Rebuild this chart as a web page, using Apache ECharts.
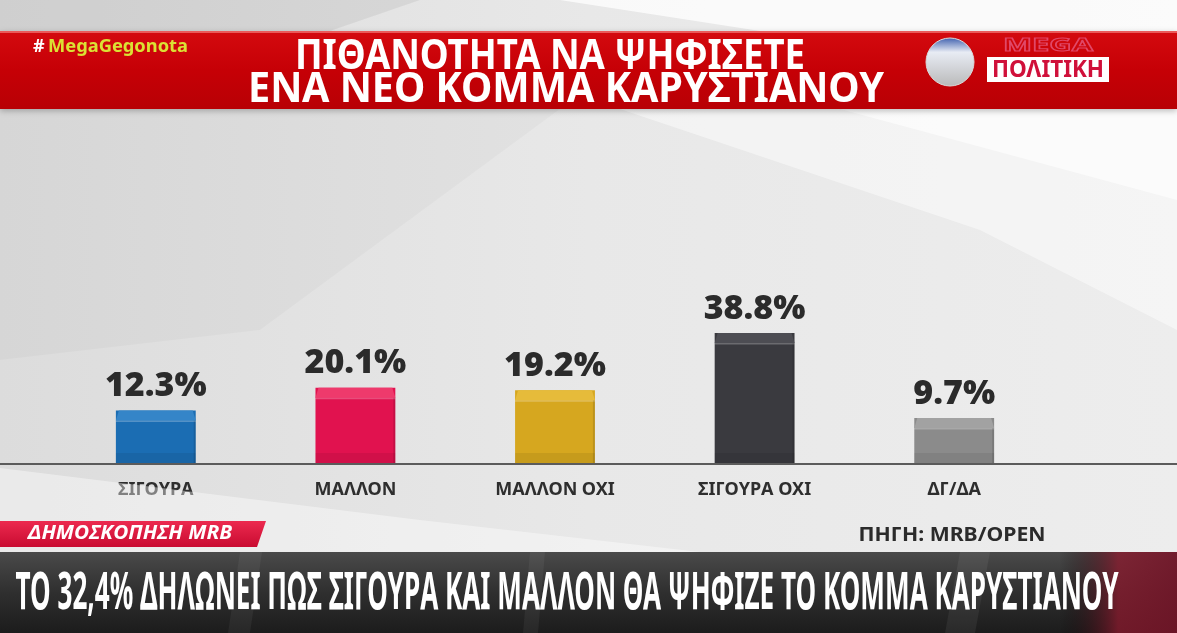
<!DOCTYPE html>
<html>
<head>
<meta charset="utf-8">
<script src="https://cdn.jsdelivr.net/npm/echarts@6/dist/echarts.min.js"></script>
<style>
  html, body { margin: 0; padding: 0; background: #e4e4e4; }
  #chart { width: 1177px; height: 633px; }
</style>
</head>
<body>
<div id="chart"></div>
<script>
// data
const categories = ['ΣΙΓΟΥΡΑ', 'ΜΑΛΛΟΝ', 'ΜΑΛΛΟΝ ΟΧΙ', 'ΣΙΓΟΥΡΑ ΟΧΙ', 'ΔΓ/ΔΑ'];
const values = [12.3, 20.1, 19.2, 38.8, 9.7];

const titleLines = ['ΠΙΘΑΝΟΤΗΤΑ ΝΑ ΨΗΦΙΣΕΤΕ', 'ΕΝΑ ΝΕΟ ΚΟΜΜΑ ΚΑΡΥΣΤΙΑΝΟΥ'];
const tickerText = 'ΤΟ 32,4% ΔΗΛΩΝΕΙ ΠΩΣ ΣΙΓΟΥΡΑ ΚΑΙ ΜΑΛΛΟΝ ΘΑ ΨΗΦΙΖΕ ΤΟ ΚΟΜΜΑ ΚΑΡΥΣΤΙΑΝΟΥ';

// bar colours
const palette = ['#1b6db3', '#e1124f', '#d6a71f', '#3a3a3f', '#8b8b8b'];
const bevel = ['#3585c8', '#ee3a6c', '#e6bb3a', '#4d4d53', '#a2a2a2'];

// the bars in the graphic don't start at zero, they sit on a raised floor
const axisMin = -6;

// squeeze a text to a wanted width (condensed broadcast font)
const measureCtx = document.createElement('canvas').getContext('2d');
function fitScale(text, font, width) {
  measureCtx.font = font;
  return width / measureCtx.measureText(text).width;
}

function txt(text, cx, cy, font, fill, width, extra) {
  const sx = width ? fitScale(text, font, width) : 1;
  return Object.assign({
    type: 'text', x: cx, y: cy, scaleX: sx, z: 20,
    style: {
      text: text, font: font, fill: fill,
      align: 'center', verticalAlign: 'middle',
      textAlign: 'center', textVerticalAlign: 'middle'
    }
  }, extra || {});
}

function renderBar(params, api) {
  const i = api.value(0);
  const v = api.value(1);
  const top = api.coord([i, v]);
  const base = api.coord([i, axisMin]);
  const w = api.size([1, 0])[0] * 0.4;
  const x0 = top[0] - w / 2, x1 = top[0] + w / 2;
  const h = base[1] - top[1];
  const c = palette[params.dataIndex], b = bevel[params.dataIndex];
  return {
    type: 'group',
    children: [
      { type: 'rect', shape: { x: x0, y: top[1], width: w, height: h }, style: { fill: c } },
      { type: 'polygon', shape: { points: [[x0, top[1] + 10], [x0 + 3, top[1]], [x1 - 3, top[1]], [x1, top[1] + 10]] },
        style: { fill: b } },
      { type: 'rect', shape: { x: x0, y: top[1] + 10, width: w, height: 1.5 }, style: { fill: 'rgba(255,255,255,0.25)' } },
      { type: 'rect', shape: { x: x0, y: base[1] - 11, width: w, height: 11 }, style: { fill: 'rgba(0,0,0,0.07)' } },
      { type: 'rect', shape: { x: x1 - 2, y: top[1] + 10, width: 2, height: h - 10 }, style: { fill: 'rgba(0,0,0,0.12)' } },
      {
        type: 'text', x: top[0], y: top[1] - 7,
        style: {
          text: v.toFixed(1) + '%', fill: '#2b2b2b',
          font: '900 34px "Noto Sans", sans-serif',
          align: 'center', verticalAlign: 'bottom',
          textAlign: 'center', textVerticalAlign: 'bottom'
        }
      }
    ]
  };
}

const titleFont = 'bold 42px "Noto Sans", sans-serif';
const tickerFont = 'bold 52px "Noto Sans", sans-serif';

const background = [
  { type: 'rect', z: 0, shape: { x: 0, y: 0, width: 1177, height: 633 },
    style: { fill: new echarts.graphic.LinearGradient(0, 0, 1, 0, [
      { offset: 0, color: '#dcdcdc' }, { offset: 0.5, color: '#e8e8e8' }, { offset: 1, color: '#ededed' }]) } },
  // soft sweeps
  { type: 'polygon', z: 1, shape: { points: [[560, 0], [1177, 0], [1177, 31], [760, 31]] },
    style: { fill: 'rgba(255,255,255,0.75)' } },
  { type: 'polygon', z: 1, shape: { points: [[0, 0], [420, 0], [330, 31], [0, 31]] },
    style: { fill: 'rgba(0,0,0,0.06)' } },
  { type: 'polygon', z: 1, shape: { points: [[620, 109], [1177, 109], [1177, 330], [980, 230]] },
    style: { fill: 'rgba(255,255,255,0.45)' } },
  { type: 'polygon', z: 1, shape: { points: [[840, 109], [1177, 109], [1177, 200]] },
    style: { fill: 'rgba(255,255,255,0.6)' } },
  { type: 'polygon', z: 1, shape: { points: [[0, 109], [560, 109], [260, 330], [0, 360]] },
    style: { fill: 'rgba(0,0,0,0.025)' } },
  { type: 'polygon', z: 1, shape: { points: [[0, 468], [420, 520], [700, 552], [0, 552]] },
    style: { fill: 'rgba(255,255,255,0.4)' } },
  // baseline across the whole frame
  { type: 'rect', z: 12, shape: { x: 0, y: 463, width: 1177, height: 2 }, style: { fill: '#5b5b5b' } },
  // red title band
  { type: 'rect', z: 10, shape: { x: 0, y: 31, width: 1177, height: 78 },
    style: { fill: new echarts.graphic.LinearGradient(0, 0, 0, 1, [
      { offset: 0, color: '#d40a0f' }, { offset: 0.5, color: '#c60006' }, { offset: 1, color: '#b80005' }]),
      shadowBlur: 6, shadowColor: 'rgba(0,0,0,0.25)', shadowOffsetY: 2 } },
  { type: 'rect', z: 11, shape: { x: 0, y: 31, width: 1177, height: 2 }, style: { fill: '#ea5a5a' } },
  // logo
  { type: 'circle', z: 15, shape: { cx: 950, cy: 62, r: 24 },
    style: { fill: new echarts.graphic.LinearGradient(0, 0, 0, 1, [
      { offset: 0, color: '#3d5fae' }, { offset: 0.3, color: '#e8ecf4' }, { offset: 1, color: '#b9b9b9' }]),
      stroke: '#d9d9d9', lineWidth: 1 } },
  { type: 'rect', z: 15, shape: { x: 987, y: 57, width: 122, height: 25 }, style: { fill: '#ffffff' } },
  txt('ΠΟΛΙΤΙΚΗ', 1048, 70, 'bold 23px "Noto Sans", sans-serif', '#d0103a', 112),
  txt('MEGA', 1048, 46, 'bold 17px "Noto Sans", sans-serif', 'rgba(0,0,0,0)', 90,
    { style: { text: 'MEGA', font: 'bold 17px "Noto Sans", sans-serif', fill: 'rgba(0,0,0,0)', stroke: '#e04868', lineWidth: 1,
      align: 'center', verticalAlign: 'middle', textAlign: 'center', textVerticalAlign: 'middle' } }),
  // hashtag
  { type: 'text', x: 33, y: 47, z: 20,
    style: { text: '#', font: 'bold 18px "Noto Sans", sans-serif', fill: '#ffffff', align: 'left', verticalAlign: 'middle',
      textAlign: 'left', textVerticalAlign: 'middle' } },
  { type: 'text', x: 48, y: 47, z: 20, scaleX: fitScale('MegaGegonota', 'bold 18px "Noto Sans", sans-serif', 140),
    style: { text: 'MegaGegonota', font: 'bold 18px "Noto Sans", sans-serif', fill: '#dbe134', align: 'left', verticalAlign: 'middle',
      textAlign: 'left', textVerticalAlign: 'middle' } },
  // title
  txt(titleLines[0], 550, 57, titleFont, '#ffffff', 510),
  txt(titleLines[1], 566, 90, titleFont, '#ffffff', 636),
  // poll tag and source
  { type: 'polygon', z: 15, shape: { points: [[0, 521], [266, 521], [257, 547], [0, 547]] },
    style: { fill: new echarts.graphic.LinearGradient(0, 0, 0, 1, [
      { offset: 0, color: '#ec2a4f' }, { offset: 1, color: '#c90b31' }]) } },
  txt('ΔΗΜΟΣΚΟΠΗΣΗ MRB', 130, 534, 'italic bold 19px "Noto Sans", sans-serif', '#ffffff', 204),
  txt('ΠΗΓΗ: MRB/OPEN', 952, 536, 'bold 19px "Noto Sans", sans-serif', '#2b2b2b', 187),
  // dark ticker
  { type: 'rect', z: 10, shape: { x: 0, y: 552, width: 1177, height: 81 },
    style: { fill: new echarts.graphic.LinearGradient(0, 0, 0, 1, [
      { offset: 0, color: '#4a4a4a' }, { offset: 0.5, color: '#2f2f2f' }, { offset: 1, color: '#1c1c1c' }]) } },
  { type: 'rect', z: 11, shape: { x: 0, y: 552, width: 1177, height: 81 },
    style: { fill: new echarts.graphic.LinearGradient(0, 0, 1, 0, [
      { offset: 0, color: 'rgba(0,0,0,0)' }, { offset: 0.9, color: 'rgba(0,0,0,0)' },
      { offset: 0.95, color: 'rgba(140,25,45,0.75)' }, { offset: 1, color: 'rgba(120,20,40,0.85)' }]) } },
  { type: 'polygon', z: 11, shape: { points: [[240, 552], [262, 552], [250, 633], [228, 633]] }, style: { fill: 'rgba(255,255,255,0.05)' } },
  { type: 'polygon', z: 11, shape: { points: [[530, 552], [545, 552], [538, 633], [523, 633]] }, style: { fill: 'rgba(255,255,255,0.05)' } },
  { type: 'polygon', z: 11, shape: { points: [[960, 552], [990, 552], [975, 633], [945, 633]] }, style: { fill: 'rgba(255,255,255,0.06)' } },
  txt(tickerText, 567, 594, tickerFont, '#ffffff', 1103)
];

const chart = echarts.init(document.getElementById('chart'), null, { renderer: 'canvas' });
chart.setOption({
  animation: false,
  backgroundColor: 'transparent',
  graphic: background,
  grid: { left: 56, right: 123, top: 271, height: 193 },
  xAxis: {
    type: 'category',
    data: categories,
    axisLine: { show: false },
    axisTick: { show: false },
    axisLabel: {
      margin: 17,
      color: '#2e2e2e',
      fontFamily: 'Noto Sans',
      fontWeight: 'bold',
      fontSize: 18
    }
  },
  yAxis: {
    type: 'value',
    min: axisMin,
    max: 60,
    show: false,
    splitLine: { show: false }
  },
  series: [{
    type: 'custom',
    z: 5,
    renderItem: renderBar,
    data: values.map((v, i) => [i, v])
  }]
});
</script>
</body>
</html>
